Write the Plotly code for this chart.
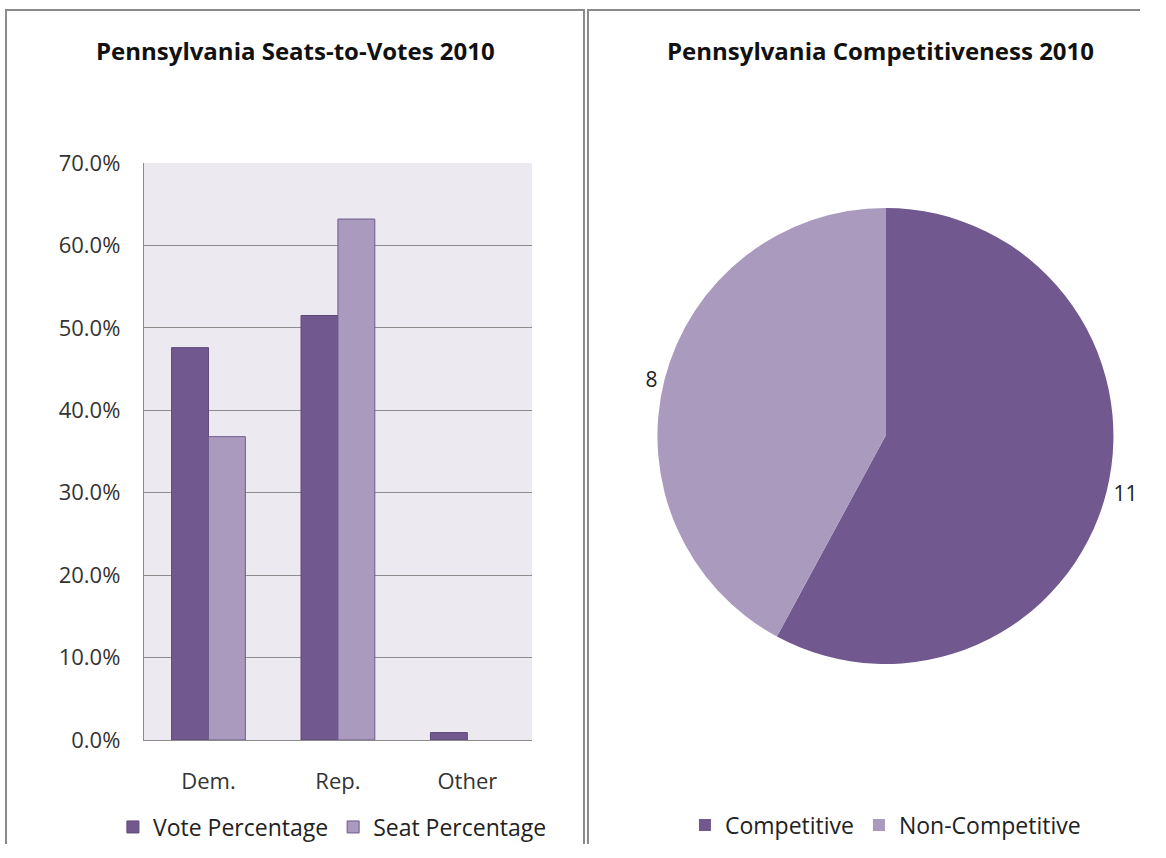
import plotly.graph_objects as go

categories = ["Dem.", "Rep.", "Other"]
vote_pct = [47.6, 51.5, 0.9]
seat_pct = [36.8, 63.2, 0.0]
vote_name = "Vote Percentage"
seat_name = "Seat Percentage"

pie_labels = ["Competitive", "Non-Competitive"]
pie_values = [11, 8]

DARK = "#71588F"
LIGHT = "#A99ABE"
FONT = "Open Sans"
W, H = 1166, 858
# effective drawing area observed in the viewer
EW, EH, EY = 1142.0, 828.0, 15.0


def px_x(p):
    return min(p / EW, 1.0)


def px_y(p):
    return max(1 - (p - EY) / EH, 0.0)


fig = go.Figure()
fig.add_trace(go.Bar(x=categories, y=vote_pct, name=vote_name,
                     marker=dict(color=DARK, line=dict(color="#5D4878", width=1)),
                     legend="legend"))
fig.add_trace(go.Bar(x=categories, y=seat_pct, name=seat_name,
                     marker=dict(color=LIGHT, line=dict(color="#6E5A8C", width=[1, 1, 0])),
                     legend="legend"))
cy = px_y(435)
rh = 228.0 / EH
cx = px_x(887)
fig.add_trace(go.Pie(labels=pie_labels, values=pie_values, sort=False,
                     direction="clockwise", rotation=0,
                     marker=dict(colors=[DARK, LIGHT]),
                     textinfo="value", textposition="outside",
                     textfont=dict(size=21, color="#222", family=FONT),
                     domain=dict(x=[cx - 0.21, cx + 0.21], y=[cy - rh, cy + rh]),
                     legend="legend2", showlegend=True))

border = dict(color="#8A8A8A", width=2)


def seg(x0, y0, x1, y1):
    return dict(type="line", xref="paper", yref="paper",
                x0=px_x(x0), y0=px_y(y0), x1=px_x(x1), y1=px_y(y1), line=border)


fig.update_layout(
    width=W, height=H,
    margin=dict(l=0, r=0, t=0, b=0),
    paper_bgcolor="white",
    plot_bgcolor="#ECEAF0",
    font=dict(family=FONT, color="#333"),
    barmode="group", bargap=0.43, bargroupgap=0,
    xaxis=dict(domain=[px_x(144), px_x(533)], showgrid=False,
               showline=True, linecolor="#8C8C8C", linewidth=1,
               ticks="", tickfont=dict(size=22, color="#333"), ticklabelstandoff=22),
    yaxis=dict(domain=[px_y(739), px_y(162)], range=[0, 70], dtick=10,
               ticksuffix="%", tickformat=".1f",
               showgrid=True, gridcolor="#8C8C8C", gridwidth=1,
               showline=True, linecolor="#8C8C8C", linewidth=1,
               ticks="", ticklabelstandoff=18,
               tickfont=dict(size=22, color="#333"), zeroline=False),
    legend=dict(orientation="h", x=px_x(333), xanchor="center", y=px_y(826), yanchor="middle",
                font=dict(size=23, color="#222"), itemwidth=30, bgcolor="rgba(0,0,0,0)"),
    legend2=dict(orientation="h", x=px_x(887), xanchor="center", y=px_y(824), yanchor="middle",
                 font=dict(size=23, color="#222"), itemwidth=30, bgcolor="rgba(0,0,0,0)"),
    annotations=[
        dict(text="<b>Pennsylvania Seats-to-Votes 2010</b>", x=px_x(296), y=px_y(50),
             xanchor="center", yanchor="middle",
             xref="paper", yref="paper", showarrow=False, font=dict(size=24, color="#111")),
        dict(text="<b>Pennsylvania Competitiveness 2010</b>", x=px_x(882), y=px_y(50),
             xanchor="center", yanchor="middle",
             xref="paper", yref="paper", showarrow=False, font=dict(size=24, color="#111")),
    ],
    shapes=[
        seg(6, 9, 6, 900), seg(5, 9, 586, 9), seg(585, 9, 585, 900),
        seg(589, 9, 589, 900), seg(588, 9, 1200, 9),
    ],
)

fig.write_html("out.html", config={"displayModeBar": False},
               post_script="document.body.style.margin='0';document.body.style.overflow='hidden';")
